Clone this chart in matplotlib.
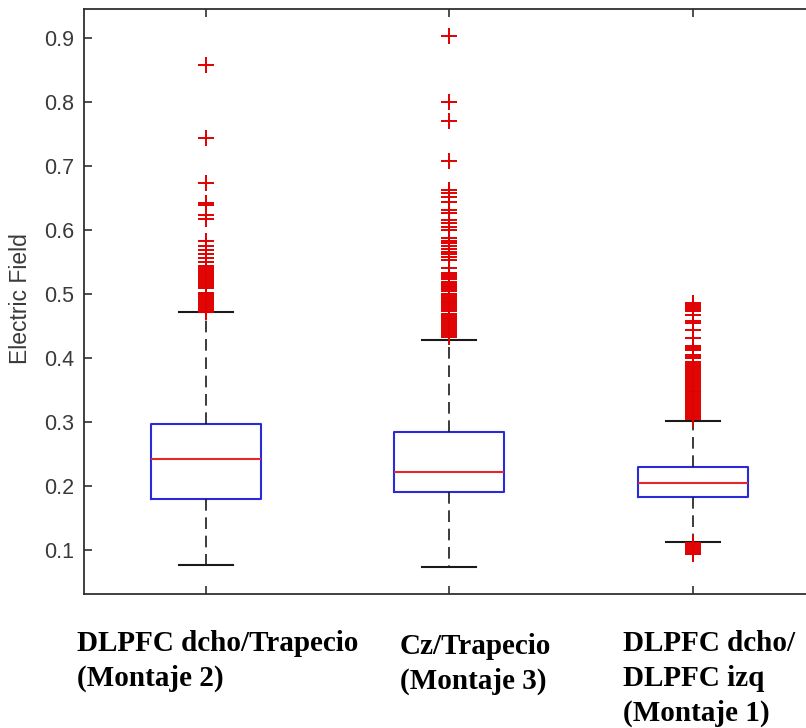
import matplotlib
matplotlib.use("Agg")
import matplotlib.pyplot as plt

# ---- data ----
groups = ["DLPFC dcho/Trapecio\n(Montaje 2)", "Cz/Trapecio\n(Montaje 3)", "DLPFC dcho/\nDLPFC izq\n(Montaje 1)"]
medians = [0.242, 0.222, 0.205]
q1s = [0.180, 0.191, 0.183]
q3s = [0.296, 0.284, 0.230]
whis_lo = [0.076, 0.073, 0.113]
whis_hi = [0.471, 0.428, 0.301]

fliers_m2 = [0.858, 0.743, 0.673, 0.642, 0.638, 0.623, 0.617,
             0.582, 0.575, 0.569, 0.562, 0.556, 0.549,
             0.543, 0.540, 0.537, 0.534, 0.531, 0.528,
             0.524, 0.521, 0.518, 0.515, 0.512, 0.509,
             0.502, 0.499, 0.496, 0.493, 0.490, 0.487, 0.484, 0.481, 0.478, 0.475, 0.472]
fliers_m3 = [0.902, 0.800, 0.770, 0.708, 0.662, 0.657, 0.651, 0.644, 0.631, 0.626,
             0.616, 0.610, 0.605, 0.600, 0.587, 0.583, 0.579,
             0.574, 0.570, 0.566, 0.562, 0.558, 0.553, 0.540,
             0.532, 0.529, 0.526, 0.523, 0.519, 0.516, 0.513, 0.510, 0.507, 0.504,
             0.500, 0.497, 0.494, 0.491, 0.488, 0.485, 0.482, 0.479, 0.476, 0.473,
             0.469, 0.466, 0.463, 0.460, 0.457, 0.454, 0.451, 0.448, 0.445, 0.442,
             0.439, 0.436, 0.433]
fliers_m1 = [0.486, 0.483, 0.480, 0.477, 0.473, 0.467, 0.457, 0.455, 0.444, 0.431,
             0.418, 0.415, 0.412, 0.405, 0.402, 0.400,
             0.394, 0.391, 0.388, 0.385, 0.382, 0.379, 0.376, 0.373, 0.370, 0.367,
             0.364, 0.361, 0.358, 0.355, 0.352, 0.349, 0.346, 0.343, 0.340, 0.337,
             0.334, 0.331, 0.328, 0.325, 0.322, 0.319, 0.316, 0.313, 0.310, 0.307, 0.304,
             0.111, 0.108, 0.105, 0.102, 0.099, 0.096, 0.093]
fliers = [fliers_m2, fliers_m3, fliers_m1]

yticks = [0.1, 0.2, 0.3, 0.4, 0.5, 0.6, 0.7, 0.8, 0.9]
ylabel = "Electric Field"

# ---- figure ----
W, H = 806, 728
fig = plt.figure(figsize=(W / 100, H / 100), dpi=100)
ax = fig.add_axes([84 / W, 134 / H, (814.5 - 84) / W, 585 / H])

stats = []
for i in range(3):
    stats.append(dict(med=medians[i], q1=q1s[i], q3=q3s[i],
                      whislo=whis_lo[i], whishi=whis_hi[i], fliers=fliers[i]))

ax.bxp(stats, positions=[1, 2, 3], widths=0.45, capwidths=0.22,
       boxprops=dict(color="#2a2ad6", linewidth=1.5),
       medianprops=dict(color="#e8262a", linewidth=1.5),
       whiskerprops=dict(color="#1a1a1a", linewidth=1.2, linestyle=(0, (7, 4))),
       capprops=dict(color="#1a1a1a", linewidth=1.5),
       flierprops=dict(marker="+", markeredgecolor="#e00000", markersize=11.5,
                       markeredgewidth=1.4, linestyle="none"))

ax.set_xlim(0.5, 3.5)
ax.set_ylim(0.0313, 0.9448)
ax.set_yticks(yticks)
ax.set_yticklabels([f"{v:.1f}" for v in yticks])
ax.set_xticks([1, 2, 3])
ax.set_xticklabels([])

spine_c = "#303030"
for s in ax.spines.values():
    s.set_color(spine_c)
    s.set_linewidth(1.3)
ax.tick_params(direction="in", top=True, right=True, length=5.5, width=1.2,
               colors=spine_c, labelsize=15.5, pad=7)
for lab in ax.get_yticklabels():
    lab.set_fontfamily("Liberation Sans")
    lab.set_color("#3a3a3a")

ax.set_ylabel(ylabel, fontsize=16.5, color="#3a3a3a", fontfamily="Liberation Sans")
ax.yaxis.set_label_coords((32 - 84) / 730.5, (594 - 299) / 585)

# group labels below the axes (bold serif)
label_pos = [(77, [651, 686]), (400, [654, 689]), (623, [651, 686, 721])]
for name, (x0, bases) in zip(groups, label_pos):
    for line, yb in zip(name.split("\n"), bases):
        fig.text(x0 / W, 1 - yb / H, line, ha="left", va="baseline",
                 fontfamily="Liberation Serif", fontweight="bold", fontsize=21,
                 color="black")

fig.savefig("out.png", dpi=100)
